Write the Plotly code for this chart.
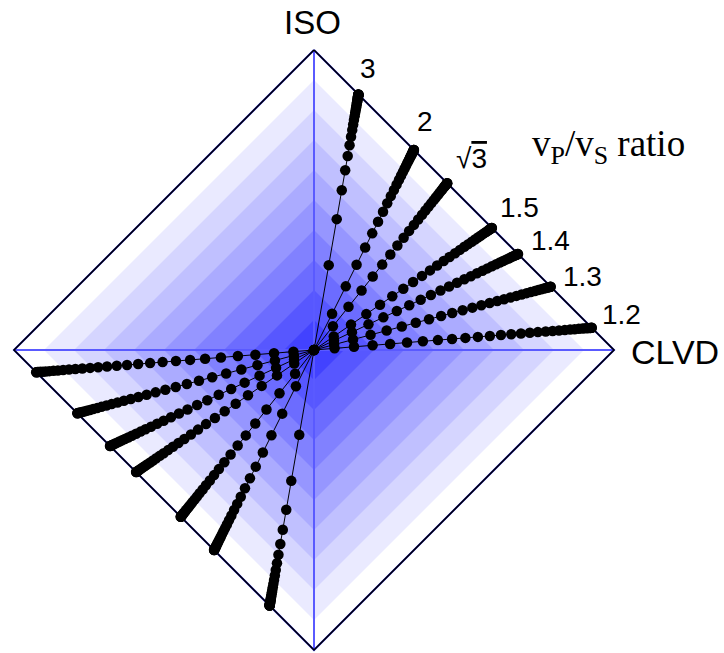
import plotly.graph_objects as go

# vP/vS ratios, labelled at the tensile-crack end of each line
vp_vs_labels = ["3", "2", "√3", "1.5", "1.4", "1.3", "1.2"]
# ISO share at the pure tensile-crack end of each line (CLVD share = 1 - ISO)
iso_end = [0.852, 0.667, 0.556, 0.407, 0.320, 0.211, 0.074]

# Radial position of each dot (slope 3°, 6°, ..., 90°) as a fraction of the
# distance from the DC centre to the tensile-crack end of its line
r_3 = [0.332, 0.512, 0.625, 0.703, 0.759, 0.801, 0.834, 0.861, 0.882, 0.900,
       0.915, 0.928, 0.939, 0.948, 0.956, 0.963, 0.969, 0.974, 0.979, 0.983,
       0.987, 0.990, 0.992, 0.994, 0.996, 0.998, 0.999, 0.999, 1.000, 1.000]
r_2 = [0.181, 0.318, 0.426, 0.512, 0.583, 0.641, 0.691, 0.733, 0.769, 0.800,
       0.827, 0.851, 0.872, 0.890, 0.906, 0.920, 0.933, 0.944, 0.954, 0.963,
       0.970, 0.977, 0.983, 0.987, 0.991, 0.995, 0.997, 0.999, 1.000, 1.000]
r_sqrt3 = [0.142, 0.259, 0.357, 0.441, 0.512, 0.573, 0.626, 0.673, 0.714, 0.750,
           0.782, 0.811, 0.836, 0.859, 0.879, 0.897, 0.913, 0.927, 0.940, 0.951,
           0.961, 0.969, 0.977, 0.983, 0.988, 0.993, 0.996, 0.998, 1.000, 1.000]
r_15 = [0.111, 0.208, 0.294, 0.371, 0.440, 0.502, 0.557, 0.607, 0.652, 0.692,
        0.729, 0.762, 0.793, 0.820, 0.845, 0.867, 0.887, 0.905, 0.921, 0.936,
        0.949, 0.959, 0.969, 0.978, 0.985, 0.990, 0.995, 0.998, 0.999, 1.000]
r_14 = [0.098, 0.186, 0.267, 0.340, 0.406, 0.467, 0.523, 0.573, 0.620, 0.662,
        0.701, 0.737, 0.769, 0.799, 0.826, 0.850, 0.872, 0.893, 0.911, 0.927,
        0.941, 0.954, 0.965, 0.975, 0.982, 0.989, 0.994, 0.997, 0.999, 1.000]
r_13 = [0.085, 0.165, 0.239, 0.307, 0.371, 0.430, 0.486, 0.537, 0.584, 0.628,
        0.669, 0.707, 0.742, 0.774, 0.803, 0.830, 0.855, 0.877, 0.898, 0.916,
        0.933, 0.947, 0.960, 0.971, 0.980, 0.987, 0.993, 0.997, 0.999, 1.000]
r_12 = [0.074, 0.144, 0.211, 0.274, 0.335, 0.392, 0.446, 0.497, 0.545, 0.590,
        0.633, 0.673, 0.710, 0.745, 0.777, 0.806, 0.834, 0.859, 0.882, 0.903,
        0.922, 0.938, 0.953, 0.966, 0.976, 0.985, 0.992, 0.996, 0.999, 1.000]
r_lines = [r_3, r_2, r_sqrt3, r_15, r_14, r_13, r_12]

# label offsets (pixels) from the crack end of each line
label_dx = [10, 11, 24, 28, 32, 32, 30]
label_dy = [26, 28, 25, 20, 14, 10, 13]

SANS = "Liberation Sans, Arial, sans-serif"
SERIF = "Liberation Serif, Times New Roman, serif"

fig = go.Figure()

# nested diamonds shading the plane, darker towards the DC centre
n_bands = 10
for k in range(n_bands):
    h = 1.0 - k / n_bands
    c = 255 - 21 * k
    fig.add_trace(go.Scatter(
        x=[0, h, 0, -h, 0], y=[h, 0, -h, 0, h],
        mode="lines", fill="toself",
        fillcolor=f"rgb({c},{c},255)",
        line=dict(width=0), hoverinfo="skip", showlegend=False))

# ISO and CLVD axes through the centre
fig.add_trace(go.Scatter(x=[0, 0], y=[-1, 1], mode="lines",
                         line=dict(color="#5a5aff", width=2),
                         hoverinfo="skip", showlegend=False))
fig.add_trace(go.Scatter(x=[-1, 1], y=[0, 0], mode="lines",
                         line=dict(color="#5a5aff", width=2),
                         hoverinfo="skip", showlegend=False))

# diamond outline
fig.add_trace(go.Scatter(x=[0, 1, 0, -1, 0], y=[1, 0, -1, 0, 1], mode="lines",
                         line=dict(color="#3030e0", width=2),
                         hoverinfo="skip", showlegend=False))
fig.add_trace(go.Scatter(x=[0, 1, 0, -1, 0], y=[1, 0, -1, 0, 1], mode="lines",
                         line=dict(color="black", width=1.5),
                         hoverinfo="skip", showlegend=False))

# one line per vP/vS ratio: compressive half, DC centre, tensile half
for lab, iso, r in zip(vp_vs_labels, iso_end, r_lines):
    pts = [-v for v in reversed(r)] + [0.0] + list(r)
    clvd = 1.0 - iso
    fig.add_trace(go.Scatter(
        x=[p * clvd for p in pts], y=[p * iso for p in pts],
        mode="lines+markers",
        line=dict(color="black", width=1),
        marker=dict(color="black", size=10.5),
        name=lab, showlegend=False))

annotations = []
for lab, iso, dx, dy in zip(vp_vs_labels, iso_end, label_dx, label_dy):
    text = lab
    if lab == "√3":
        text = "√<span style='text-decoration:overline'>3</span>"
    annotations.append(dict(
        x=1.0 - iso, y=iso, xref="x", yref="y", text=text, showarrow=False,
        xshift=dx, yshift=dy, font=dict(family=SANS, size=28, color="black")))

annotations += [
    dict(x=0, y=1, xref="x", yref="y", text="ISO", showarrow=False,
         yshift=28, xshift=-2, font=dict(family=SANS, size=33, color="black")),
    dict(x=1, y=0, xref="x", yref="y", text="CLVD", showarrow=False,
         xanchor="left", xshift=15, yshift=-2,
         font=dict(family=SANS, size=34, color="black")),
    dict(x=0.98, y=0.68, xref="x", yref="y",
         text="v<sub>P</sub>/v<sub>S</sub> ratio", showarrow=False,
         xanchor="center", font=dict(family=SERIF, size=37, color="black")),
]

fig.update_layout(
    width=724, height=653,
    margin=dict(l=0, r=0, t=0, b=0),
    paper_bgcolor="white", plot_bgcolor="white",
    xaxis=dict(range=[-314 / 300, 410 / 300], visible=False, fixedrange=True),
    yaxis=dict(range=[-303 / 300, 350 / 300], visible=False, fixedrange=True),
    annotations=annotations,
    showlegend=False,
)

fig.write_html("out.html")
